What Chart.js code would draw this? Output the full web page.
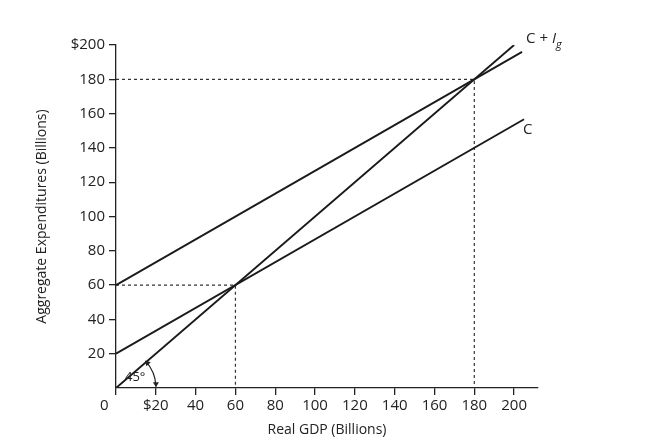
<!DOCTYPE html>
<html><head><meta charset="utf-8">
<script src="https://cdn.jsdelivr.net/npm/chart.js@4"></script>
<style>html,body{margin:0;padding:0;background:#fff}#w{width:653px;height:443px}</style>
</head><body><div id="w"><canvas id="c"></canvas></div>
<script>
const xTicks = [0,20,40,60,80,100,120,140,160,180,200];
const yTicks = [20,40,60,80,100,120,140,160,180,200];
const gdp = [0, 205];
const consumption = [20, 156.7];
const gdpCI = [0, 204];
const consumptionPlusInvestment = [60, 196];
const line45x = [0, 200];
const line45y = [0, 200];
const eqLow = 60, eqHigh = 180;

const pts = (xs, ys) => xs.map((x,i)=>({x, y: ys[i]}));
const solid = (d) => ({data:d, borderColor:'#1a1a1a', borderWidth:1.9, pointRadius:0, fill:false, tension:0});
const dash = (d) => ({data:d, borderColor:'#333', borderWidth:1.2, borderDash:[3,3], pointRadius:0, fill:false});

const deco = {
  id:'deco',
  afterDatasetsDraw(ch){
    const c = ch.ctx, xs = ch.scales.x, ys = ch.scales.y;
    const ox = xs.getPixelForValue(0), oy = ys.getPixelForValue(0);
    c.save();
    c.strokeStyle='#222'; c.fillStyle='#222'; c.lineWidth=1.2;
    const r = 40;
    c.beginPath(); c.arc(ox, oy, r, -Math.PI/4+0.05, -0.04); c.stroke();
    const ah=(a,dir)=>{const px=ox+r*Math.cos(a), py=oy+r*Math.sin(a);
      const t=a+dir*Math.PI/2; c.beginPath(); c.moveTo(px,py);
      c.lineTo(px-5*Math.cos(t)+3*Math.cos(a), py-5*Math.sin(t)+3*Math.sin(a));
      c.lineTo(px-5*Math.cos(t)-3*Math.cos(a), py-5*Math.sin(t)-3*Math.sin(a)); c.closePath(); c.fill();};
    ah(-0.02, 1); ah(-Math.PI/4+0.03,-1);
    c.font='13px "Open Sans"'; c.textBaseline='middle'; c.textAlign='left';
    c.fillText('45°', ox+9, oy-11);
    c.font='15px "Open Sans"';
    const lx = xs.getPixelForValue(gdpCI[1])+4, ly = ys.getPixelForValue(consumptionPlusInvestment[1])-13;
    c.fillText('C + ', lx, ly);
    let w = c.measureText('C + ').width;
    c.font='italic 15px "Open Sans"'; c.fillText('I', lx+w, ly);
    w += c.measureText('I').width;
    c.font='italic 11px "Open Sans"'; c.fillText('g', lx+w, ly+6);
    c.font='15px "Open Sans"';
    c.fillText('C', xs.getPixelForValue(gdp[1])-1, ys.getPixelForValue(consumption[1])+10);
    c.restore();
  }
};

new Chart(document.getElementById('c'), {
  type:'line',
  data:{datasets:[
    solid(pts(gdp, consumption)),
    solid(pts(gdpCI, consumptionPlusInvestment)),
    solid(pts(line45x, line45y)),
    dash([{x:0,y:eqHigh},{x:eqHigh,y:eqHigh},{x:eqHigh,y:0}]),
    dash([{x:0,y:eqLow},{x:eqLow,y:eqLow},{x:eqLow,y:0}])
  ]},
  options:{
    responsive:true, maintainAspectRatio:false, animation:false,
    layout:{padding:{left:30,top:45,right:115,bottom:0}},
    plugins:{legend:{display:false},tooltip:{enabled:false}},
    scales:{
      x:{type:'linear', min:0, max:212,
        afterBuildTicks:s=>{s.ticks=xTicks.map(v=>({value:v}));},
        afterFit:s=>{s.height=55;},
        border:{color:'#222',width:1.3},
        grid:{drawOnChartArea:false, tickLength:7, color:'#222', lineWidth:1.3},
        ticks:{color:'#222',font:{family:'"Open Sans"',size:15},padding:2,maxRotation:0,autoSkip:false,
          callback:v=> v===20?'$20':(v===0?'0      ':String(v))},
        title:{display:true,text:'Real GDP (Billions)',color:'#222',font:{family:'"Open Sans"',size:14},padding:{top:0,bottom:5}}
      },
      y:{type:'linear', min:0, max:200,
        afterBuildTicks:s=>{s.ticks=yTicks.map(v=>({value:v}));},
        afterFit:s=>{s.width=86;},
        border:{color:'#222',width:1.3},
        grid:{drawOnChartArea:false, tickLength:7, color:'#222', lineWidth:1.3},
        ticks:{color:'#222',font:{family:'"Open Sans"',size:15},padding:4,autoSkip:false,
          callback:v=> v===200?'$200':String(v)},
        title:{display:true,text:'Aggregate Expenditures (Billions)',color:'#222',font:{family:'"Open Sans"',size:14},padding:{top:4,bottom:0}}
      }
    }
  },
  plugins:[deco]
});
</script></body></html>
